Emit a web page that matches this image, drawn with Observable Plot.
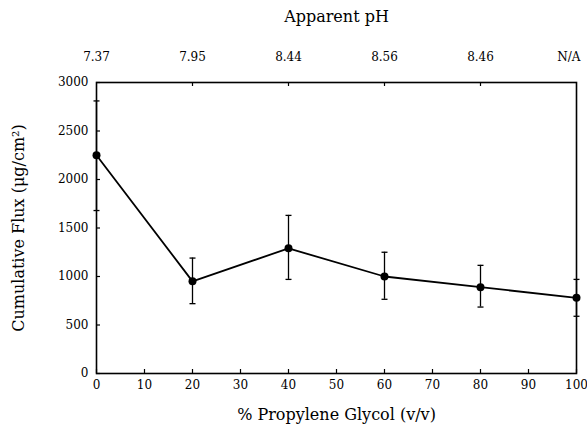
<!DOCTYPE html>
<html><head><meta charset="utf-8">
<script src="https://cdn.jsdelivr.net/npm/d3@7"></script>
<script src="https://cdn.jsdelivr.net/npm/@observablehq/plot@0.6"></script>
<style>body{margin:0;background:#fff} svg{display:block}</style>
</head><body><div id="chart"></div>
<script>
const glycol = [0, 20, 40, 60, 80, 100];
const flux = [2250, 950, 1290, 1000, 890, 780];
const fluxLow = [1680, 720, 970, 765, 685, 590];
const fluxHigh = [2810, 1190, 1630, 1250, 1115, 970];
const phLabels = ["7.37", "7.95", "8.44", "8.56", "8.46", "N/A"];
const xTicks = [0, 10, 20, 30, 40, 50, 60, 70, 80, 90, 100];
const yTicks = [0, 500, 1000, 1500, 2000, 2500, 3000];
const topTicks = [20, 40, 60, 80];

const data = glycol.map((g, i) => ({g, f: flux[i], lo: fluxLow[i], hi: fluxHigh[i]}));

const W = 587, H = 429, mL = 96, mR = 11, mT = 82, mB = 56;
const innerW = W - mL - mR, innerH = H - mT - mB;

const cap = {draw(ctx, size) { const w = Math.sqrt(size / Math.PI); ctx.moveTo(-w, 0); ctx.lineTo(w, 0); }};
const phFormat = d => phLabels[glycol.indexOf(d)];

const chart = Plot.plot({
  width: W, height: H,
  marginLeft: mL, marginRight: mR, marginTop: mT, marginBottom: mB,
  style: {fontFamily: "DejaVu Serif", fontSize: "12px", color: "#000", background: "#fff"},
  x: {domain: [0, 100]},
  y: {domain: [0, 3000]},
  marks: [
    Plot.axisX(xTicks, {anchor: "bottom", tickSize: 0, tickPadding: 7, fontSize: 12, tickFormat: d3.format("d"),
      label: "% Propylene Glycol (v/v)", labelAnchor: "center", labelArrow: "none", labelOffset: 46}),
    Plot.axisX(glycol.slice(0, 5), {anchor: "top", tickSize: 0, tickPadding: 22, fontSize: 12,
      tickFormat: phFormat,
      label: "Apparent pH", labelAnchor: "center", labelArrow: "none", labelOffset: 72}),
    Plot.axisX(glycol.slice(5), {anchor: "top", tickSize: 0, tickPadding: 22, fontSize: 12,
      tickFormat: phFormat, textAnchor: "end", dx: 4, label: null}),
    Plot.axisY(yTicks, {anchor: "left", tickSize: 0, tickPadding: 8, fontSize: 12, tickFormat: d3.format("d"),
      label: "Cumulative Flux (μg/cm²)", labelAnchor: "center", labelArrow: "none", labelOffset: 84}),
    Plot.tickX(xTicks, {x: d => d, insetTop: innerH - 4, stroke: "#000", strokeWidth: 1.2}),
    Plot.tickX(topTicks, {x: d => d, insetBottom: innerH - 4, stroke: "#000", strokeWidth: 1.2}),
    Plot.tickY(yTicks, {y: d => d, insetRight: innerW - 4, stroke: "#000", strokeWidth: 1.2}),
    Plot.frame({stroke: "#000", strokeWidth: 1.6}),
    Plot.ruleX(data, {x: "g", y1: "lo", y2: "hi", stroke: "#000", strokeWidth: 1.3}),
    Plot.dot(data, {x: "g", y: "lo", symbol: cap, r: 3, stroke: "#000", strokeWidth: 1.3}),
    Plot.dot(data, {x: "g", y: "hi", symbol: cap, r: 3, stroke: "#000", strokeWidth: 1.3}),
    Plot.line(data, {x: "g", y: "f", stroke: "#000", strokeWidth: 1.8}),
    Plot.dot(data, {x: "g", y: "f", r: 4, fill: "#000"})
  ]
});
chart.querySelectorAll("g[aria-label$='axis label'] text").forEach(t => t.setAttribute("font-size", "16"));
document.getElementById("chart").append(chart);
</script>
</body></html>
